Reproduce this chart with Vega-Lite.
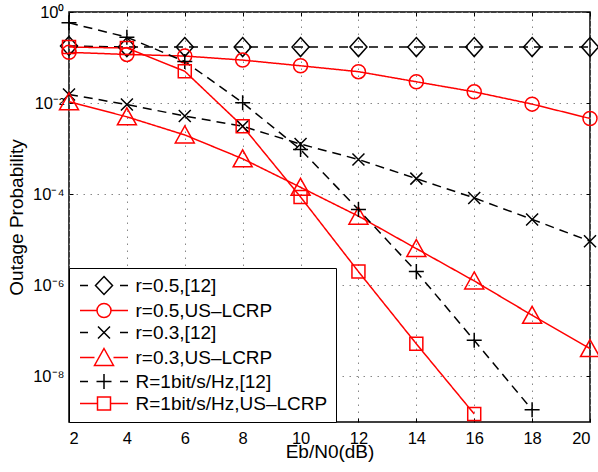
{
  "$schema": "https://vega.github.io/schema/vega-lite/v6.json",
  "width": 521,
  "height": 410,
  "autosize": "none",
  "padding": {"left": 69, "top": 12, "right": 8, "bottom": 50},
  "background": "white",
  "config": {
    "view": {"stroke": "#000", "strokeWidth": 1.5},
    "font": "Liberation Sans",
    "axis": {
      "domain": false,
      "tickColor": "#000",
      "tickWidth": 1,
      "tickSize": -4,
      "labelColor": "#000",
      "labelFont": "Liberation Sans",
      "labelFontSize": 16.5,
      "titleFont": "Liberation Sans",
      "titleFontSize": 19,
      "titleFontWeight": "normal",
      "titleColor": "#000",
      "gridColor": "#888",
      "gridDash": [1.5, 5.5],
      "gridWidth": 1,
      "gridOpacity": 1
    },
    "legend": {
      "title": null,
      "orient": "bottom-left",
      "offset": 0,
      "padding": 8,
      "fillColor": "#ffffff",
      "strokeColor": "#000000",
      "symbolSize": 4,
      "symbolOffset": 17.5,
      "labelOffset": 22,
      "rowPadding": 2,
      "labelFont": "Liberation Sans",
      "labelFontSize": 19,
      "labelColor": "#000",
      "labelLimit": 400,
      "symbolStrokeWidth": 1.5
    }
  },
  "data": {
    "values": [
      {"s": "r=0.5,[12]", "x": 2, "y": 0.18},
      {"s": "r=0.5,[12]", "x": 4, "y": 0.17},
      {"s": "r=0.5,[12]", "x": 6, "y": 0.17},
      {"s": "r=0.5,[12]", "x": 8, "y": 0.17},
      {"s": "r=0.5,[12]", "x": 10, "y": 0.17},
      {"s": "r=0.5,[12]", "x": 12, "y": 0.17},
      {"s": "r=0.5,[12]", "x": 14, "y": 0.17},
      {"s": "r=0.5,[12]", "x": 16, "y": 0.17},
      {"s": "r=0.5,[12]", "x": 18, "y": 0.17},
      {"s": "r=0.5,[12]", "x": 20, "y": 0.17},
      {"s": "r=0.5,US–LCRP", "x": 2, "y": 0.13},
      {"s": "r=0.5,US–LCRP", "x": 4, "y": 0.117},
      {"s": "r=0.5,US–LCRP", "x": 6, "y": 0.108},
      {"s": "r=0.5,US–LCRP", "x": 8, "y": 0.088},
      {"s": "r=0.5,US–LCRP", "x": 10, "y": 0.066},
      {"s": "r=0.5,US–LCRP", "x": 12, "y": 0.049},
      {"s": "r=0.5,US–LCRP", "x": 14, "y": 0.0294},
      {"s": "r=0.5,US–LCRP", "x": 16, "y": 0.0177},
      {"s": "r=0.5,US–LCRP", "x": 18, "y": 0.0095},
      {"s": "r=0.5,US–LCRP", "x": 20, "y": 0.0046},
      {"s": "r=0.3,[12]", "x": 2, "y": 0.0155},
      {"s": "r=0.3,[12]", "x": 4, "y": 0.0093},
      {"s": "r=0.3,[12]", "x": 6, "y": 0.0052},
      {"s": "r=0.3,[12]", "x": 8, "y": 0.0031},
      {"s": "r=0.3,[12]", "x": 10, "y": 0.00126},
      {"s": "r=0.3,[12]", "x": 12, "y": 0.00058},
      {"s": "r=0.3,[12]", "x": 14, "y": 0.00022},
      {"s": "r=0.3,[12]", "x": 16, "y": 0.000083},
      {"s": "r=0.3,[12]", "x": 18, "y": 0.000028},
      {"s": "r=0.3,[12]", "x": 20, "y": 0.0000093},
      {"s": "r=0.3,US–LCRP", "x": 2, "y": 0.0107},
      {"s": "r=0.3,US–LCRP", "x": 4, "y": 0.005},
      {"s": "r=0.3,US–LCRP", "x": 6, "y": 0.002},
      {"s": "r=0.3,US–LCRP", "x": 8, "y": 0.0006},
      {"s": "r=0.3,US–LCRP", "x": 10, "y": 0.000142},
      {"s": "r=0.3,US–LCRP", "x": 12, "y": 0.000033},
      {"s": "r=0.3,US–LCRP", "x": 14, "y": 0.0000064},
      {"s": "r=0.3,US–LCRP", "x": 16, "y": 0.00000125},
      {"s": "r=0.3,US–LCRP", "x": 18, "y": 0.00000022},
      {"s": "r=0.3,US–LCRP", "x": 20, "y": 0.000000041},
      {"s": "R=1bit/s/Hz,[12]", "x": 2, "y": 0.58},
      {"s": "R=1bit/s/Hz,[12]", "x": 4, "y": 0.28},
      {"s": "R=1bit/s/Hz,[12]", "x": 6, "y": 0.082},
      {"s": "R=1bit/s/Hz,[12]", "x": 8, "y": 0.0102},
      {"s": "R=1bit/s/Hz,[12]", "x": 10, "y": 0.00096},
      {"s": "R=1bit/s/Hz,[12]", "x": 12, "y": 0.000046},
      {"s": "R=1bit/s/Hz,[12]", "x": 14, "y": 0.000002},
      {"s": "R=1bit/s/Hz,[12]", "x": 16, "y": 0.000000062},
      {"s": "R=1bit/s/Hz,[12]", "x": 18, "y": 0.00000000185},
      {"s": "R=1bit/s/Hz,US–LCRP", "x": 2, "y": 0.17},
      {"s": "R=1bit/s/Hz,US–LCRP", "x": 4, "y": 0.162},
      {"s": "R=1bit/s/Hz,US–LCRP", "x": 6, "y": 0.05},
      {"s": "R=1bit/s/Hz,US–LCRP", "x": 8, "y": 0.0031},
      {"s": "R=1bit/s/Hz,US–LCRP", "x": 10, "y": 0.000087},
      {"s": "R=1bit/s/Hz,US–LCRP", "x": 12, "y": 0.000002},
      {"s": "R=1bit/s/Hz,US–LCRP", "x": 14, "y": 0.000000052},
      {"s": "R=1bit/s/Hz,US–LCRP", "x": 16, "y": 0.0000000015}
    ]
  },
  "layer": [
    {
      "mark": {"type": "line", "strokeWidth": 1.5},
      "encoding": {
        "x": {
          "field": "x", "type": "quantitative",
          "scale": {"domain": [2, 20], "nice": false, "zero": false},
          "axis": {
            "orient": "bottom",
            "values": [2, 4, 6, 8, 10, 12, 14, 16, 18, 20],
            "title": "Eb/N0(dB)",
            "labelPadding": 12,
            "titlePadding": -4,
            "grid": true
          }
        },
        "y": {
          "field": "y", "type": "quantitative",
          "scale": {"type": "log", "domain": [1e-9, 1], "nice": false},
          "axis": {
            "orient": "left",
            "values": [1, 0.01, 0.0001, 0.000001, 0.00000001],
            "title": "Outage Probability",
            "labelPadding": 9,
            "titlePadding": 6,
            "grid": true,
            "labelExpr": "'10' + (round(log(datum.value)/LN10) == 0 ? '⁰' : round(log(datum.value)/LN10) == -2 ? '⁻²' : round(log(datum.value)/LN10) == -4 ? '⁻⁴' : round(log(datum.value)/LN10) == -6 ? '⁻⁶' : '⁻⁸')"
          }
        },
        "color": {
          "field": "s", "type": "nominal",
          "scale": {
            "domain": ["r=0.5,[12]", "r=0.5,US–LCRP", "r=0.3,[12]", "r=0.3,US–LCRP", "R=1bit/s/Hz,[12]", "R=1bit/s/Hz,US–LCRP"],
            "range": ["#000000", "#ff0000", "#000000", "#ff0000", "#000000", "#ff0000"]
          },
          "legend": null
        },
        "strokeDash": {
          "field": "s", "type": "nominal",
          "scale": {
            "domain": ["r=0.5,[12]", "r=0.5,US–LCRP", "r=0.3,[12]", "r=0.3,US–LCRP", "R=1bit/s/Hz,[12]", "R=1bit/s/Hz,US–LCRP"],
            "range": [[9, 6], [1, 0], [9, 6], [1, 0], [9, 6], [1, 0]]
          },
          "legend": null
        }
      }
    },
    {
      "mark": {
        "type": "point", "filled": false, "size": 4, "strokeWidth": 1.5, "opacity": 1,
        "shape": {"expr": "isDefined(datum.s) ? (datum.s === 'r=0.5,[12]' ? 'M0,-9.5L8.5,0L0,9.5L-8.5,0Z' : datum.s === 'r=0.5,US–LCRP' ? 'M7,0A7,7,0,1,1,-7,0A7,7,0,1,1,7,0Z' : datum.s === 'r=0.3,[12]' ? 'M-6,-6L6,6M-6,6L6,-6' : datum.s === 'r=0.3,US–LCRP' ? 'M0,-9L9.5,8L-9.5,8Z' : datum.s === 'R=1bit/s/Hz,[12]' ? 'M-7.5,0H7.5M0,-7.5V7.5' : 'M-6.5,-6.5H6.5V6.5H-6.5Z') : (datum.value === 'r=0.5,[12]' ? 'M-24,0H-16M16,0H24M0,-9L8.5,0L0,9L-8.5,0Z' : datum.value === 'r=0.5,US–LCRP' ? 'M-24,0H-7M7,0H24M7,0A7,7,0,1,1,-7,0A7,7,0,1,1,7,0Z' : datum.value === 'r=0.3,[12]' ? 'M-24,0H-16M16,0H24M-6,-6L6,6M-6,6L6,-6' : datum.value === 'r=0.3,US–LCRP' ? 'M-24,0H-9.5M9.5,0H24M0,-9L9.5,8L-9.5,8Z' : datum.value === 'R=1bit/s/Hz,[12]' ? 'M-24,0H-16M16,0H24M-7.5,0H7.5M0,-7.5V7.5' : 'M-24,0H-6.5M6.5,0H24M-6.5,-6.5H6.5V6.5H-6.5Z')"}
      },
      "encoding": {
        "x": {
          "field": "x", "type": "quantitative",
          "axis": {"orient": "top", "labels": false, "title": null, "grid": false, "values": [2, 4, 6, 8, 10, 12, 14, 16, 18, 20]}
        },
        "y": {
          "field": "y", "type": "quantitative",
          "axis": {"orient": "right", "labels": false, "title": null, "grid": false, "values": [1, 0.01, 0.0001, 0.000001, 0.00000001]}
        },
        "color": {
          "field": "s", "type": "nominal",
          "legend": {
            "encode": {
              "legend": {"strokeWidth": {"value": 1.5}},
              "symbols": {
                "size": {"value": 4},
                "fill": {"value": "transparent"},
                "opacity": {"value": 1},
                "strokeWidth": {"value": 1.5}
              }
            }
          }
        }
      }
    }
  ],
  "resolve": {
    "axis": {"x": "independent", "y": "independent"},
    "legend": {"color": "independent"}
  }
}
